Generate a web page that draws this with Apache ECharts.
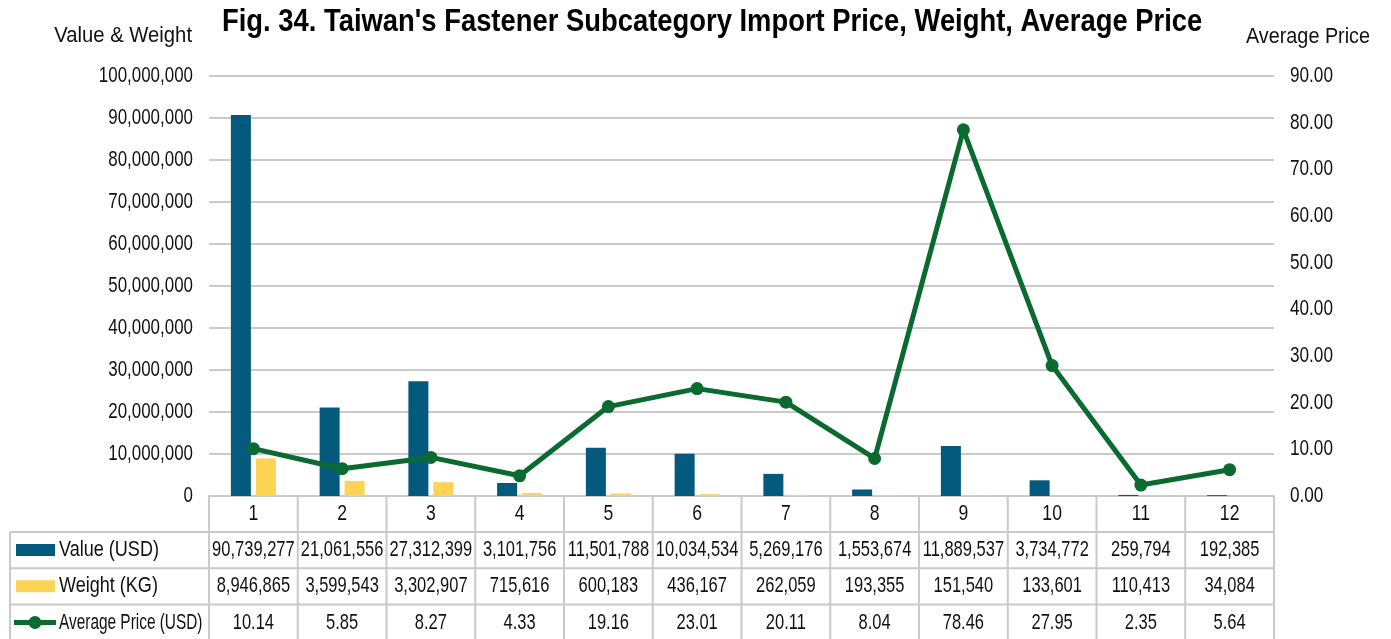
<!DOCTYPE html>
<html>
<head>
<meta charset="utf-8">
<script src="https://cdn.jsdelivr.net/npm/echarts@6/dist/echarts.min.js"></script>
<style>
  html, body { margin: 0; padding: 0; background: #ffffff; }
  #chart { width: 1391px; height: 639px; }
</style>
</head>
<body>
<div id="chart"></div>
<script>
// Fastener subcategories 1-12
var categories = ['1', '2', '3', '4', '5', '6', '7', '8', '9', '10', '11', '12'];
var valueUSD = [90739277, 21061556, 27312399, 3101756, 11501788, 10034534, 5269176, 1553674, 11889537, 3734772, 259794, 192385];
var weightKG = [8946865, 3599543, 3302907, 715616, 600183, 436167, 262059, 193355, 151540, 133601, 110413, 34084];
var avgPrice = [10.14, 5.85, 8.27, 4.33, 19.16, 23.01, 20.11, 8.04, 78.46, 27.95, 2.35, 5.64];
var seriesNames = ['Value (USD)', 'Weight (KG)', 'Average Price (USD)'];

// axis tick values
var leftTicks = [0, 10000000, 20000000, 30000000, 40000000, 50000000, 60000000, 70000000, 80000000, 90000000, 100000000];
var rightTicks = [0, 10, 20, 30, 40, 50, 60, 70, 80, 90];

var titleText = "Fig. 34. Taiwan's Fastener Subcategory Import Price, Weight, Average Price";
var leftAxisName = 'Value & Weight';
var rightAxisName = 'Average Price';

var FONT = "'Liberation Sans', Arial, sans-serif";
var BLUE = '#035a7d';
var YELLOW = '#fdd355';
var GREEN = '#0a6a30';
var GRID_COLOR = '#c9c9ce';
var INK = '#111111';

var GRID = { left: 209, right: 117, top: 76, bottom: 143 };
var W = 1391, H = 639;

function fmtInt(v) { return Math.round(v).toLocaleString('en-US'); }
function fmt2(v) { return v.toFixed(2); }

var chart = echarts.init(document.getElementById('chart'), null, { renderer: 'canvas' });

chart.setOption({
  animation: false,
  backgroundColor: '#ffffff',
  grid: GRID,
  xAxis: {
    type: 'category',
    data: categories,
    axisLine: { show: true, lineStyle: { color: GRID_COLOR, width: 2 } },
    axisTick: { show: false },
    axisLabel: { show: false },
    splitLine: { show: false }
  },
  yAxis: [
    {
      type: 'value',
      min: leftTicks[0], max: leftTicks[leftTicks.length - 1], interval: leftTicks[1] - leftTicks[0],
      axisLine: { show: false },
      axisTick: { show: false },
      axisLabel: { show: false },
      splitLine: { show: true, lineStyle: { color: GRID_COLOR, width: 2 } }
    },
    {
      type: 'value',
      min: rightTicks[0], max: rightTicks[rightTicks.length - 1], interval: rightTicks[1] - rightTicks[0],
      axisLine: { show: false },
      axisTick: { show: false },
      axisLabel: { show: false },
      splitLine: { show: false }
    }
  ],
  series: [
    {
      name: seriesNames[0], type: 'bar', yAxisIndex: 0, data: valueUSD,
      barWidth: 20, barGap: '25%',
      itemStyle: { color: BLUE }
    },
    {
      name: seriesNames[1], type: 'bar', yAxisIndex: 0, data: weightKG,
      barWidth: 20, barGap: '25%',
      itemStyle: { color: YELLOW }
    },
    {
      name: seriesNames[2], type: 'line', yAxisIndex: 1, data: avgPrice,
      symbol: 'circle', symbolSize: 13,
      lineStyle: { color: GREEN, width: 5 },
      itemStyle: { color: GREEN },
      z: 5
    }
  ]
});

// Narrow-looking text: regular face squeezed horizontally
function label(str, x, y, align, size, sx, bold) {
  return {
    type: 'text', silent: true, x: x, y: y, scaleX: sx,
    style: { text: str, x: 0, y: 0, align: align, verticalAlign: 'middle',
      fontFamily: FONT, fontSize: size, fontWeight: bold ? 'bold' : 'normal', fill: bold ? '#000000' : INK }
  };
}

// Title, axis captions, tick labels and the data table under the plot
function buildOverlay() {
  var elements = [];
  var x0 = GRID.left, x1 = W - GRID.right;
  var yTop = H - GRID.bottom;
  var headH = 36;
  var rowH = 36.2;
  var tableLeft = 10;
  var colW = (x1 - x0) / categories.length;
  var rows = [valueUSD.map(fmtInt), weightKG.map(fmtInt), avgPrice.map(fmt2)];
  var lineStyle = { stroke: GRID_COLOR, lineWidth: 2 };

  function hline(xa, xb, y) {
    elements.push({ type: 'line', silent: true, shape: { x1: xa, y1: y, x2: xb, y2: y }, style: lineStyle });
  }
  function vline(x, ya, yb) {
    elements.push({ type: 'line', silent: true, shape: { x1: x, y1: ya, x2: x, y2: yb }, style: lineStyle });
  }
  function rowTop(r) { return yTop + headH + rowH * r; }

  // title
  elements.push(label(titleText, 222, 22, 'left', 32, 0.856, true));

  // axis captions
  elements.push(label(leftAxisName, 192, 36, 'right', 22, 0.92));
  elements.push(label(rightAxisName, 1370, 37, 'right', 22, 0.9));

  // tick labels
  leftTicks.forEach(function (v) {
    var py = chart.convertToPixel({ yAxisIndex: 0 }, v);
    elements.push(label(fmtInt(v), 193, py, 'right', 22, 0.77));
  });
  rightTicks.forEach(function (v) {
    var py = chart.convertToPixel({ yAxisIndex: 1 }, v);
    elements.push(label(fmt2(v), 1290, py, 'left', 22, 0.78));
  });

  // table rules
  var yBottom = rowTop(3) + 4;
  hline(tableLeft, x1, rowTop(0));
  hline(tableLeft, x1, rowTop(1));
  hline(tableLeft, x1, rowTop(2));
  vline(tableLeft, rowTop(0), yBottom);
  for (var k = 0; k <= categories.length; k++) {
    vline(x0 + colW * k, yTop, yBottom);
  }

  // category header
  categories.forEach(function (c, i) {
    var cx = chart.convertToPixel({ xAxisIndex: 0 }, i);
    elements.push(label(c, cx, yTop + headH / 2, 'center', 22, 0.8));
  });
  // series rows
  rows.forEach(function (row, r) {
    var cy = rowTop(r) + rowH / 2;
    row.forEach(function (s, i) {
      var cx = chart.convertToPixel({ xAxisIndex: 0 }, i);
      elements.push(label(s, cx, cy, 'center', 22, 0.75));
    });
  });

  // legend keys in the first column
  var ky0 = rowTop(0) + rowH / 2, ky1 = rowTop(1) + rowH / 2, ky2 = rowTop(2) + rowH / 2;
  elements.push({ type: 'rect', silent: true, shape: { x: 16, y: ky0 - 6, width: 39, height: 12 }, style: { fill: BLUE } });
  elements.push({ type: 'rect', silent: true, shape: { x: 16, y: ky1 - 6, width: 39, height: 12 }, style: { fill: YELLOW } });
  elements.push({ type: 'line', silent: true, shape: { x1: 14, y1: ky2, x2: 56, y2: ky2 }, style: { stroke: GREEN, lineWidth: 5 } });
  elements.push({ type: 'circle', silent: true, shape: { cx: 35, cy: ky2, r: 6.5 }, style: { fill: GREEN } });
  elements.push(label(seriesNames[0], 59, ky0, 'left', 22, 0.82));
  elements.push(label(seriesNames[1], 59, ky1, 'left', 22, 0.82));
  elements.push(label(seriesNames[2], 59, ky2, 'left', 22, 0.7));

  chart.setOption({ graphic: { elements: elements } });
}
buildOverlay();
</script>
</body>
</html>
